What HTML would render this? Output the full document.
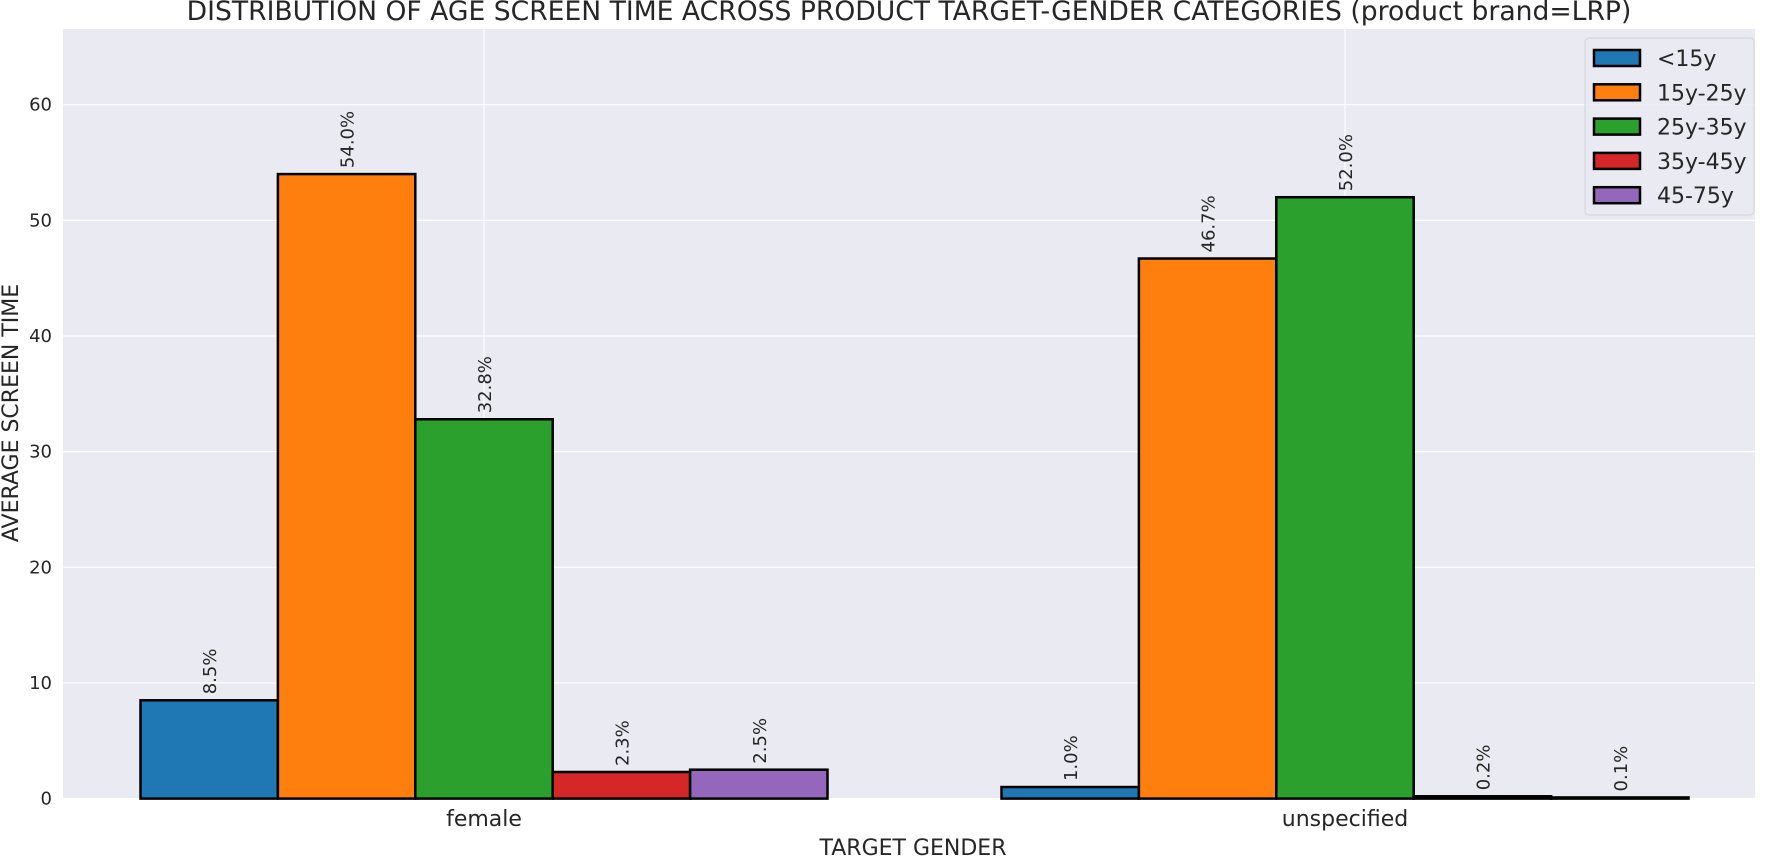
<!DOCTYPE html>
<html><head><meta charset="utf-8"><style>
html,body{margin:0;padding:0;background:#fff;}
svg{display:block;font-family:"DejaVu Sans","Liberation Sans",sans-serif;}
</style></head><body>
<svg id="chart" width="1766" height="859" viewBox="0 0 1766 859" xmlns="http://www.w3.org/2000/svg">
<rect x="63" y="29" width="1692" height="770" fill="#eaeaf2"/>
<g id="grid"></g>
<g id="bars"></g>
<g id="labels"></g>
<g id="ticks"></g>
<text x="909" y="20" text-anchor="middle" font-size="26.6" fill="#262626">DISTRIBUTION OF AGE SCREEN TIME ACROSS PRODUCT TARGET-GENDER CATEGORIES (product brand=LRP)</text>
<text x="913" y="855" text-anchor="middle" font-size="22" fill="#262626">TARGET GENDER</text>
<text transform="translate(18,413) rotate(-90)" text-anchor="middle" font-size="22" fill="#262626">AVERAGE SCREEN TIME</text>
<g id="legend"></g>
</svg>
<script>
const categories = ["female", "unspecified"];
const seriesNames = ["<15y", "15y-25y", "25y-35y", "35y-45y", "45-75y"];
const colors = ["#1f77b4", "#ff7f0e", "#2ca02c", "#d62728", "#9467bd"];
const s_lt15 = [8.5, 1.0];
const s_15_25 = [54.0, 46.7];
const s_25_35 = [32.8, 52.0];
const s_35_45 = [2.3, 0.2];
const s_45_75 = [2.5, 0.1];
const yTicks = [0, 10, 20, 30, 40, 50, 60];

const series = [s_lt15, s_15_25, s_25_35, s_35_45, s_45_75];
const NS = "http://www.w3.org/2000/svg";
const y0 = 798.6, yPer = 11.565;
function yScale(v){ return y0 - v * yPer; }
function xScale(i){ return 484 + i * 861; }
const barW = 137.4;
function mk(tag, attrs, parent, text){
  const e = document.createElementNS(NS, tag);
  for (const k in attrs) e.setAttribute(k, attrs[k]);
  if (text !== undefined) e.textContent = text;
  parent.appendChild(e); return e;
}
const grid = document.getElementById("grid");
const ticks = document.getElementById("ticks");
yTicks.forEach(t => {
  const l = mk("line", {x1:63, x2:1755, y1:yScale(t), y2:yScale(t), stroke:"#fff", "stroke-width":1.2}, grid);
  
  
  const tx = mk("text", {x:52, y:yScale(t)+6, "text-anchor":"end", "font-size":18, fill:"#262626"}, ticks, String(t));
  
  
});
categories.forEach((c, i) => {
  const l = mk("line", {x1:xScale(i), x2:xScale(i), y1:29, y2:799, stroke:"#fff", "stroke-width":1.2}, grid);
  
  
  const tx = mk("text", {x:xScale(i), y:826, "text-anchor":"middle", "font-size":22, fill:"#262626"}, ticks, c);
  
  
});
const bars = document.getElementById("bars");
const labels = document.getElementById("labels");
series.forEach((s, k) => {
  s.forEach((v, i) => {
    const x = xScale(i) + (k - 2.5) * barW;
    const r = mk("rect", {x:x, y:yScale(v), width:barW, height:y0 - yScale(v), fill:colors[k], stroke:"#000", "stroke-width":2.5}, bars);
    
    
    const cx = x + barW/2 + 7, cy = yScale(v) - 6;
    const t = mk("text", {transform:"translate(" + cx + "," + cy + ") rotate(-90)", "font-size":18, fill:"#262626"}, labels, v.toFixed(1) + "%");
    
    
  });
});
const lg = document.getElementById("legend");
const lbox = mk("rect", {x:1585, y:38, width:169, height:177, rx:4, fill:"#eaeaf2", stroke:"#d0d0d8", "stroke-width":1, opacity:0.9}, lg);


seriesNames.forEach((n, k) => {
  const yy = 50 + k * 34.3;
  const p = mk("rect", {x:1594, y:yy, width:46, height:16, fill:colors[k], stroke:"#000", "stroke-width":2.5}, lg);
  
  
  const t = mk("text", {x:1657, y:yy + 16, "font-size":22, fill:"#262626"}, lg, n);
  
  
});
</script>
</body></html>
